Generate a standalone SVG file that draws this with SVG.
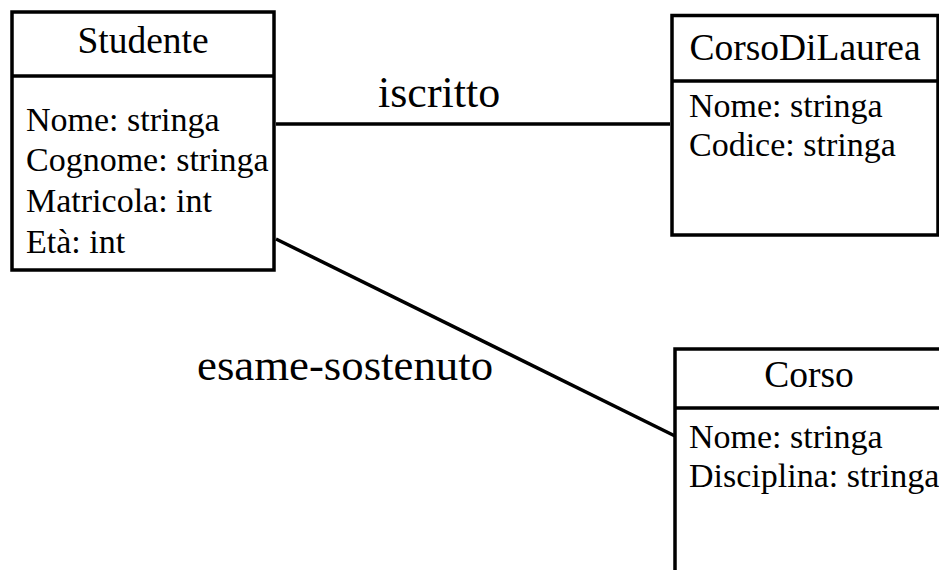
<svg xmlns="http://www.w3.org/2000/svg" width="939" height="570" viewBox="0 0 939 570">
<style>
.box{fill:#fff;stroke:#000;stroke-width:3.5}
.div{stroke:#000;stroke-width:3.5}
.title{font-family:"Liberation Serif","Times New Roman",serif;font-size:37.5px;fill:#000;text-anchor:middle}
.attr{font-family:"Liberation Serif","Times New Roman",serif;font-size:34px;fill:#000}
.lbl{font-family:"Liberation Serif","Times New Roman",serif;font-size:44px;fill:#000}
.conn{stroke:#000;stroke-width:3.5;fill:none}
</style>
<rect width="939" height="570" fill="#fff"/>
<g id="connectors">
<line class="conn" x1="276" y1="124" x2="670" y2="124"/>
<line class="conn" x1="276" y1="239" x2="675" y2="436"/>
<text class="lbl" x="378" y="107">iscritto</text>
<text class="lbl" x="197" y="380" style="font-size:44.8px">esame-sostenuto</text>
</g>
<g id="Studente">
<rect class="box" x="12" y="12" width="262" height="258"/>
<line class="div" x1="12" y1="76" x2="274" y2="76"/>
<text class="title" x="143" y="53">Studente</text>
<text class="attr" x="26" y="131">Nome: stringa</text>
<text class="attr" x="26" y="171">Cognome: stringa</text>
<text class="attr" x="26" y="212">Matricola: int</text>
<text class="attr" x="26" y="253">Età: int</text>
</g>
<g id="CorsoDiLaurea">
<rect class="box" x="672" y="15.5" width="266" height="219.5"/>
<line class="div" x1="672" y1="81" x2="938" y2="81"/>
<text class="title" x="805" y="60">CorsoDiLaurea</text>
<text class="attr" x="689" y="117">Nome: stringa</text>
<text class="attr" x="689" y="156">Codice: stringa</text>
</g>
<g id="Corso">
<rect class="box" x="675" y="349" width="268" height="240"/>
<line class="div" x1="675" y1="408" x2="943" y2="408"/>
<text class="title" x="809" y="387">Corso</text>
<text class="attr" x="689" y="448">Nome: stringa</text>
<text class="attr" x="689" y="487">Disciplina: stringa</text>
</g>
</svg>
